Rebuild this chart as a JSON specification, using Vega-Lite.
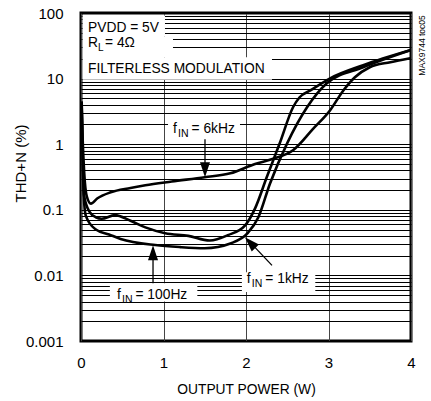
{
  "$schema": "https://vega.github.io/schema/vega-lite/v6.json",
  "width": 330,
  "height": 328,
  "autosize": "none",
  "padding": {"left": 81, "top": 13, "right": 20, "bottom": 60},
  "background": "white",
  "config": {
    "font": "Liberation Sans",
    "view": {"stroke": "black", "strokeWidth": 3}
  },
  "layer": [
    {
      "data": {"values": [
        {"x0": 0.02, "x1": 1.018, "y0": 92, "y1": 44.2},
        {"x0": 0.02, "x1": 1.115, "y0": 44.2, "y1": 21.2},
        {"x0": 0.02, "x1": 2.315, "y0": 21.2, "y1": 9.6},
        {"x0": 1.055, "x1": 1.927, "y0": 2.58, "y1": 1.19},
        {"x0": 0.35, "x1": 1.41, "y0": 0.0076, "y1": 0.0040},
        {"x0": 1.95, "x1": 2.84, "y0": 0.0112, "y1": 0.0056}
      ]},
      "mark": {"type": "rect", "fill": "white", "strokeWidth": 0},
      "encoding": {
        "x": {"field": "x0", "type": "quantitative", "scale": {"domain": [0, 4], "nice": false}, "title": "OUTPUT POWER (W)",
          "axis": {
            "values": [0, 1, 2, 3, 4], "format": "d",
            "grid": true, "gridColor": "#444", "gridWidth": 1, "gridOpacity": 1,
            "ticks": false, "domain": false,
            "labelFont": "Liberation Sans", "labelFontSize": 15, "labelColor": "black",
            "labelPadding": 14, "labelFlush": false, "labelOverlap": false,
            "titleFont": "Liberation Sans", "titleFontSize": 13.8, "titleFontWeight": "normal", "titleColor": "black",
            "titleY": 48, "titleBaseline": "middle"
          }
        },
        "x2": {"field": "x1"},
        "y": {"field": "y0", "type": "quantitative", "scale": {"type": "log", "domain": [0.001, 100], "nice": false}, "title": "THD+N (%)",
          "axis": {
            "values": [0.001,0.002,0.003,0.004,0.005,0.006,0.007,0.008,0.009,0.01,0.02,0.03,0.04,0.05,0.06,0.07,0.08,0.09,0.1,0.2,0.3,0.4,0.5,0.6,0.7,0.8,0.9,1,2,3,4,5,6,7,8,9,10,20,30,40,50,60,70,80,90,100],
            "labelExpr": "datum.value == 0.001 ? '0.001' : datum.value == 0.01 ? '0.01' : datum.value == 0.1 ? '0.1' : datum.value == 1 ? '1' : datum.value == 10 ? '10' : datum.value == 100 ? '100' : ''",
            "grid": true, "gridColor": "black", "gridWidth": 1, "gridOpacity": 1,
            "ticks": false, "domain": false,
            "labelFont": "Liberation Sans", "labelFontSize": 15, "labelColor": "black",
            "labelPadding": 18, "labelFlush": false, "labelOverlap": false, "labelBaseline": "middle",
            "titleFont": "Liberation Sans", "titleFontSize": 15, "titleFontWeight": "normal", "titleColor": "black",
            "titleX": -61, "titleY": 150, "titleBaseline": "middle", "titleAlign": "center"
          }
        },
        "y2": {"field": "y1"}
      }
    },
    {
      "data": {"values": [
        {"x": 0.085, "y": 51, "text": "PVDD = 5V"},
        {"x": 0.085, "y": 12.1, "text": "FILTERLESS MODULATION"}
      ]},
      "mark": {"type": "text", "align": "left", "baseline": "alphabetic", "fontSize": 13.8, "color": "black"},
      "encoding": {
        "x": {"field": "x", "type": "quantitative", "scale": {"domain": [0, 4], "nice": false}, "title": "OUTPUT POWER (W)"},
        "y": {"field": "y", "type": "quantitative", "scale": {"type": "log", "domain": [0.001, 100], "nice": false}, "title": "THD+N (%)"},
        "text": {"field": "text"}
      }
    },
    {
      "data": {"values": [{"x": 0.085, "y": 30.1, "a": "R", "b": "L", "c": "= 4Ω"}]},
      "encoding": {
        "x": {"field": "x", "type": "quantitative", "scale": {"domain": [0, 4], "nice": false}, "title": "OUTPUT POWER (W)"},
        "y": {"field": "y", "type": "quantitative", "scale": {"type": "log", "domain": [0.001, 100], "nice": false}, "title": "THD+N (%)"}
      },
      "layer": [
        {"mark": {"type": "text", "align": "left", "baseline": "alphabetic", "fontSize": 13.8, "color": "black"}, "encoding": {"text": {"field": "a"}}},
        {"mark": {"type": "text", "align": "left", "baseline": "alphabetic", "fontSize": 10, "dx": 10, "dy": 3.5, "color": "black"}, "encoding": {"text": {"field": "b"}}},
        {"mark": {"type": "text", "align": "left", "baseline": "alphabetic", "fontSize": 13.8, "dx": 17, "color": "black"}, "encoding": {"text": {"field": "c"}}}
      ]
    },
    {
      "data": {"values": [
        {"x": 1.115, "y": 1.47, "a": "f", "b": "IN", "c": "= 6kHz"},
        {"x": 0.436, "y": 0.00434, "a": "f", "b": "IN", "c": "= 100Hz"},
        {"x": 2.01, "y": 0.00762, "a": "f", "b": "IN", "c": "= 1kHz"}
      ]},
      "encoding": {
        "x": {"field": "x", "type": "quantitative", "scale": {"domain": [0, 4], "nice": false}, "title": "OUTPUT POWER (W)"},
        "y": {"field": "y", "type": "quantitative", "scale": {"type": "log", "domain": [0.001, 100], "nice": false}, "title": "THD+N (%)"}
      },
      "layer": [
        {"mark": {"type": "text", "align": "left", "baseline": "alphabetic", "fontSize": 13.8, "color": "black"}, "encoding": {"text": {"field": "a"}}},
        {"mark": {"type": "text", "align": "left", "baseline": "alphabetic", "fontSize": 10.5, "dx": 5, "dy": 3.5, "color": "black"}, "encoding": {"text": {"field": "b"}}},
        {"mark": {"type": "text", "align": "left", "baseline": "alphabetic", "fontSize": 13.8, "dx": 18.5, "color": "black"}, "encoding": {"text": {"field": "c"}}}
      ]
    },
    {
      "data": {"values": [
        {"x": 1.503, "y": 1.19, "x2": 1.503, "y2": 0.45},
        {"x": 0.873, "y": 0.0076, "x2": 0.873, "y2": 0.022},
        {"x": 2.315, "y": 0.0142, "x2": 2.06, "y2": 0.031}
      ]},
      "mark": {"type": "rule", "color": "black", "strokeWidth": 1.3},
      "encoding": {
        "x": {"field": "x", "type": "quantitative", "scale": {"domain": [0, 4], "nice": false}, "title": "OUTPUT POWER (W)"},
        "x2": {"field": "x2"},
        "y": {"field": "y", "type": "quantitative", "scale": {"type": "log", "domain": [0.001, 100], "nice": false}, "title": "THD+N (%)"},
        "y2": {"field": "y2"}
      }
    },
    {
      "data": {"values": [{"x": 1.503, "y": 0.409}]},
      "mark": {"type": "point", "shape": "M0,1L0.67,-1L-0.67,-1Z", "filled": true, "color": "black", "opacity": 1, "size": 225, "strokeWidth": 0},
      "encoding": {
        "x": {"field": "x", "type": "quantitative", "scale": {"domain": [0, 4], "nice": false}, "title": "OUTPUT POWER (W)"},
        "y": {"field": "y", "type": "quantitative", "scale": {"type": "log", "domain": [0.001, 100], "nice": false}, "title": "THD+N (%)"}
      }
    },
    {
      "data": {"values": [{"x": 0.873, "y": 0.0222}]},
      "mark": {"type": "point", "shape": "M0,-1L0.67,1L-0.67,1Z", "filled": true, "color": "black", "opacity": 1, "size": 225, "strokeWidth": 0},
      "encoding": {
        "x": {"field": "x", "type": "quantitative", "scale": {"domain": [0, 4], "nice": false}, "title": "OUTPUT POWER (W)"},
        "y": {"field": "y", "type": "quantitative", "scale": {"type": "log", "domain": [0.001, 100], "nice": false}, "title": "THD+N (%)"}
      }
    },
    {
      "data": {"values": [{"x": 2.05, "y": 0.0316}]},
      "mark": {"type": "point", "shape": "M0,-1L0.67,1L-0.67,1Z", "angle": -44, "filled": true, "color": "black", "opacity": 1, "size": 225, "strokeWidth": 0},
      "encoding": {
        "x": {"field": "x", "type": "quantitative", "scale": {"domain": [0, 4], "nice": false}, "title": "OUTPUT POWER (W)"},
        "y": {"field": "y", "type": "quantitative", "scale": {"type": "log", "domain": [0.001, 100], "nice": false}, "title": "THD+N (%)"}
      }
    },
    {
      "data": {"values": [
        {"series": "6kHz", "power": 0.008, "thd": 4.5},
        {"series": "6kHz", "power": 0.02, "thd": 1.2},
        {"series": "6kHz", "power": 0.04, "thd": 0.35},
        {"series": "6kHz", "power": 0.07, "thd": 0.16},
        {"series": "6kHz", "power": 0.12, "thd": 0.124},
        {"series": "6kHz", "power": 0.2, "thd": 0.15},
        {"series": "6kHz", "power": 0.36, "thd": 0.185},
        {"series": "6kHz", "power": 0.6, "thd": 0.215},
        {"series": "6kHz", "power": 0.78, "thd": 0.237},
        {"series": "6kHz", "power": 1.1, "thd": 0.27},
        {"series": "6kHz", "power": 1.5, "thd": 0.314},
        {"series": "6kHz", "power": 1.81, "thd": 0.36},
        {"series": "6kHz", "power": 2.11, "thd": 0.5},
        {"series": "6kHz", "power": 2.33, "thd": 0.6},
        {"series": "6kHz", "power": 2.57, "thd": 0.81},
        {"series": "6kHz", "power": 2.81, "thd": 1.7},
        {"series": "6kHz", "power": 3.02, "thd": 3.3},
        {"series": "6kHz", "power": 3.18, "thd": 6.6},
        {"series": "6kHz", "power": 3.32, "thd": 10.5},
        {"series": "6kHz", "power": 3.5, "thd": 14.9},
        {"series": "6kHz", "power": 3.75, "thd": 17.8},
        {"series": "6kHz", "power": 3.99, "thd": 20.5},
        {"series": "1kHz", "power": 0.008, "thd": 4},
        {"series": "1kHz", "power": 0.02, "thd": 0.8},
        {"series": "1kHz", "power": 0.035, "thd": 0.17},
        {"series": "1kHz", "power": 0.1, "thd": 0.095},
        {"series": "1kHz", "power": 0.18, "thd": 0.077},
        {"series": "1kHz", "power": 0.25, "thd": 0.073},
        {"series": "1kHz", "power": 0.41, "thd": 0.083},
        {"series": "1kHz", "power": 0.6, "thd": 0.068},
        {"series": "1kHz", "power": 0.78, "thd": 0.054},
        {"series": "1kHz", "power": 1.02, "thd": 0.044},
        {"series": "1kHz", "power": 1.3, "thd": 0.04},
        {"series": "1kHz", "power": 1.56, "thd": 0.034},
        {"series": "1kHz", "power": 1.78, "thd": 0.041},
        {"series": "1kHz", "power": 1.99, "thd": 0.058},
        {"series": "1kHz", "power": 2.11, "thd": 0.105},
        {"series": "1kHz", "power": 2.25, "thd": 0.31},
        {"series": "1kHz", "power": 2.41, "thd": 1.04},
        {"series": "1kHz", "power": 2.57, "thd": 3.66},
        {"series": "1kHz", "power": 2.65, "thd": 5.2},
        {"series": "1kHz", "power": 2.78, "thd": 6.6},
        {"series": "1kHz", "power": 3.02, "thd": 10.1},
        {"series": "1kHz", "power": 3.42, "thd": 16},
        {"series": "1kHz", "power": 3.99, "thd": 27},
        {"series": "100Hz", "power": 0.008, "thd": 3.5},
        {"series": "100Hz", "power": 0.02, "thd": 0.6},
        {"series": "100Hz", "power": 0.04, "thd": 0.12},
        {"series": "100Hz", "power": 0.06, "thd": 0.08},
        {"series": "100Hz", "power": 0.18, "thd": 0.05},
        {"series": "100Hz", "power": 0.34, "thd": 0.042},
        {"series": "100Hz", "power": 0.48, "thd": 0.036},
        {"series": "100Hz", "power": 0.9, "thd": 0.029},
        {"series": "100Hz", "power": 1.2, "thd": 0.027},
        {"series": "100Hz", "power": 1.5, "thd": 0.026},
        {"series": "100Hz", "power": 1.82, "thd": 0.031},
        {"series": "100Hz", "power": 2.02, "thd": 0.044},
        {"series": "100Hz", "power": 2.15, "thd": 0.077},
        {"series": "100Hz", "power": 2.29, "thd": 0.25},
        {"series": "100Hz", "power": 2.5, "thd": 1.04},
        {"series": "100Hz", "power": 2.74, "thd": 3.66},
        {"series": "100Hz", "power": 2.98, "thd": 8.5},
        {"series": "100Hz", "power": 3.42, "thd": 14.9},
        {"series": "100Hz", "power": 3.99, "thd": 27}
      ]},
      "mark": {"type": "line", "color": "black", "strokeWidth": 2.6, "interpolate": "monotone"},
      "encoding": {
        "x": {"field": "power", "type": "quantitative", "scale": {"domain": [0, 4], "nice": false}, "title": "OUTPUT POWER (W)"},
        "y": {"field": "thd", "type": "quantitative", "scale": {"type": "log", "domain": [0.001, 100], "nice": false}, "title": "THD+N (%)"},
        "detail": {"field": "series", "type": "nominal"}
      }
    },
    {
      "data": {"values": [{"x": 4.133, "y": 32, "text": "MAX9744 toc05"}]},
      "mark": {"type": "text", "angle": 270, "align": "center", "baseline": "middle", "fontSize": 8.5, "color": "black"},
      "encoding": {
        "x": {"field": "x", "type": "quantitative", "scale": {"domain": [0, 4], "nice": false}, "title": "OUTPUT POWER (W)"},
        "y": {"field": "y", "type": "quantitative", "scale": {"type": "log", "domain": [0.001, 100], "nice": false}, "title": "THD+N (%)"},
        "text": {"field": "text"}
      }
    }
  ]
}
